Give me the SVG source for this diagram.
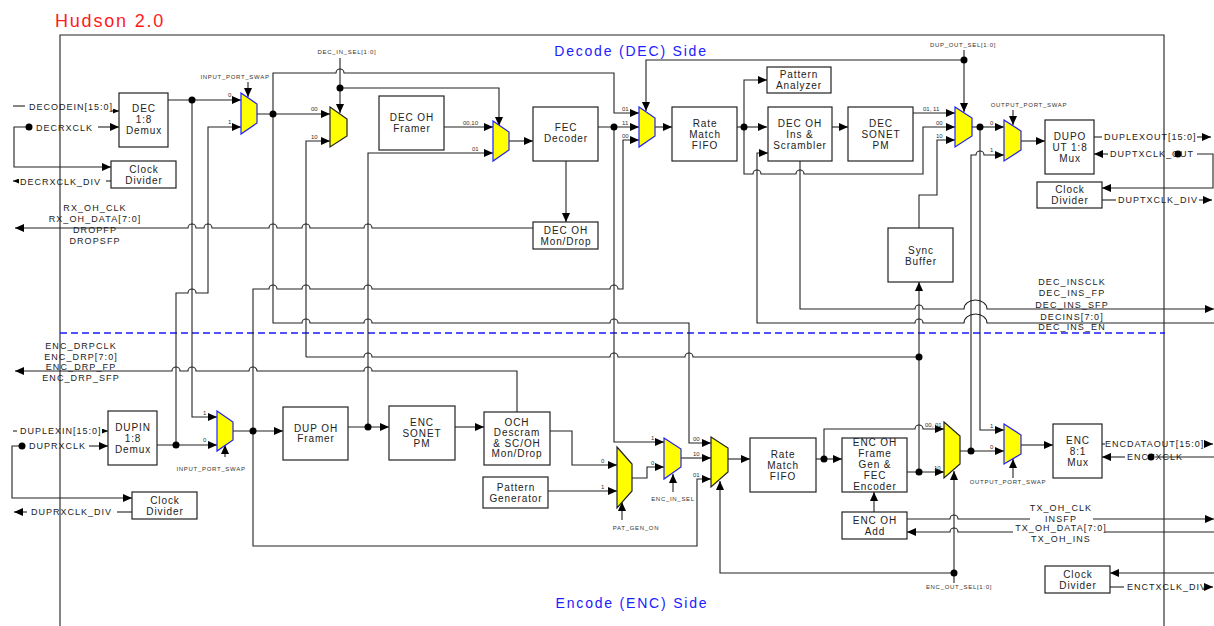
<svg xmlns="http://www.w3.org/2000/svg" width="1214" height="626" viewBox="0 0 1214 626">
<defs>
<style>
.bx{fill:#fff;stroke:#222;stroke-width:1.2}
.t{font-family:"Liberation Sans",Arial,sans-serif;font-size:10px;letter-spacing:0.9px;fill:#222;text-anchor:middle}
.p{font-family:"Liberation Sans",Arial,sans-serif;font-size:9px;letter-spacing:1px;fill:#222}
.pm{font-family:"Liberation Sans",Arial,sans-serif;font-size:9px;letter-spacing:1.1px;fill:#222;text-anchor:middle}
.s{font-family:"Liberation Sans",Arial,sans-serif;font-size:6px;letter-spacing:0.7px;fill:#333;text-anchor:middle}
.n{font-family:"Liberation Sans",Arial,sans-serif;font-size:6px;fill:#333}
.w{fill:none;stroke:#222;stroke-width:1.1}
.wa{fill:none;stroke:#222;stroke-width:1.1;marker-end:url(#a)}
.ws{fill:none;stroke:#222;stroke-width:1.1;marker-end:url(#sa)}
.mb{fill:#ffff00;stroke:#2020ff;stroke-width:1.2}
.mk{fill:#ffff00;stroke:#222;stroke-width:1.2}
.d{fill:#000}
.side{font-family:"Liberation Sans",Arial,sans-serif;font-size:14px;letter-spacing:1.8px;fill:#2020ff;text-anchor:middle}
</style>
<marker id="a" viewBox="0 0 9 8" refX="9" refY="4" markerWidth="9" markerHeight="8" markerUnits="userSpaceOnUse" orient="auto"><path d="M0,0 L9,4 L0,8 z" fill="#000"/></marker>
<marker id="sa" viewBox="0 0 6 5" refX="6" refY="2.5" markerWidth="6" markerHeight="5" markerUnits="userSpaceOnUse" orient="auto"><path d="M0,0 L6,2.5 L0,5 z" fill="#000"/></marker>
</defs>
<rect width="1214" height="626" fill="#fff"/>
<text x="55" y="27" font-family="Liberation Sans, Arial, sans-serif" font-size="18" letter-spacing="1.8" fill="#ff1a1a">Hudson 2.0</text>
<path class="w" d="M60,626 V35 H1164 V626"/>
<path d="M60,333 H1165" fill="none" stroke="#1a1aff" stroke-width="1.6" stroke-dasharray="7,4"/>
<text class="side" x="631" y="56">Decode (DEC) Side</text>
<text class="side" x="632" y="608">Encode (ENC) Side</text>

<g id="connectors">
<path class="wa" d="M168,100 H241"/>
<path class="wa" d="M176,445 V293 H188 A4,4 0 0 1 196,293 H208 V127 H241"/>
<path class="wa" d="M192,100 V417 H217"/>
<path class="wa" d="M257,114 H330"/>
<path class="wa" d="M273,114 V73 H336 A4,4 0 0 1 344,73 H614 V113 H639"/>
<path class="wa" d="M273,114 V323 H302 A4,4 0 0 1 310,323 H364 A4,4 0 0 1 372,323 H610 A4,4 0 0 1 618,323 H689 V443 H711"/>
<path class="wa" d="M340,58 V113"/>
<path class="wa" d="M340,88 H499 V126"/>
<path class="wa" d="M306,357 V141 H330"/>
<path class="w" d="M306,357 H364 A4,4 0 0 1 372,357 H610 A4,4 0 0 1 618,357 H685 A4,4 0 0 1 693,357 H919"/>
<path class="wa" d="M444,127 H493"/>
<path class="wa" d="M368,427 V153 H493"/>
<path class="wa" d="M509,141 H533"/>
<path class="wa" d="M598,127 H639"/>
<path class="wa" d="M614,127 V442 H664"/>
<path class="wa" d="M253,431 V289 H269 A4,4 0 0 1 277,289 H302 A4,4 0 0 1 310,289 H364 A4,4 0 0 1 372,289 H610 A4,4 0 0 1 618,289 H623 V140 H639"/>
<path class="wa" d="M566,161 V222"/>
<path class="wa" d="M533,228 H372 A4,4 0 0 0 364,228 H310 A4,4 0 0 0 302,228 H277 A4,4 0 0 0 269,228 H212 A4,4 0 0 0 204,228 H196 A4,4 0 0 0 188,228 H15"/>
<path class="wa" d="M964,60 H646 V111"/>
<path class="wa" d="M964,50 V112"/>
<path class="wa" d="M655,127 H672"/>
<path class="wa" d="M737,127 H767"/>
<path class="wa" d="M744,127 V80 H767"/>
<path class="wa" d="M744,127 V174 H753 A4,4 0 0 1 761,174 H796 A4,4 0 0 1 804,174 H923 V127 H955"/>
<path class="wa" d="M832,127 H848"/>
<path class="wa" d="M913,113 H955"/>
<path class="wa" d="M919,228 V195 H937 V140 H955"/>
<path class="wa" d="M919,472 V282"/>
<path class="wa" d="M800,161 V309 H915 A4,4 0 0 1 923,309 H964 A11.5,9 0 0 1 987,309 H1214"/>
<path class="wa" d="M1214,323 H987 A11.5,9 0 0 0 964,323 H923 A4,4 0 0 0 915,323 H757 V153 H768"/>
<path class="wa" d="M972,127 H1004"/>
<path class="wa" d="M980,127 V430 H1004"/>
<path class="wa" d="M971,451 V155 H976 A4,4 0 0 1 984,155 H1004"/>
<path class="wa" d="M1021,141 H1045"/>
<path class="wa" d="M1013,110 V125"/>
<path class="w" d="M1094,137 H1102"/>
<path class="wa" d="M1197,137 H1211"/>
<path class="wa" d="M1108,154 H1094"/>
<path class="wa" d="M1197,154 H1213 V188 H1102"/>
<path class="w" d="M1102,200 H1116"/>
<path class="wa" d="M1199,200 H1212"/>
<path class="w" d="M13,106 H25"/>
<path class="ws" d="M111,111 H119"/>
<path class="wa" d="M98,127 H119"/>
<path class="wa" d="M29,127 H14 V167 H111"/>
<path class="w" d="M111,181 H106"/>
<path class="ws" d="M19,181 H13"/>
<path class="w" d="M13,431 H17"/>
<path class="ws" d="M102,431 H108"/>
<path class="wa" d="M89,446 H108"/>
<path class="wa" d="M22,446 H12 V498 H132"/>
<path class="w" d="M132,512 H117"/>
<path class="wa" d="M27,512 H14"/>
<path class="wa" d="M157,445 H217"/>
<path class="wa" d="M233,431 H283"/>
<path class="wa" d="M225,457 V445"/>
<path class="wa" d="M248,82 V97"/>
<path class="wa" d="M253,431 V546 H697 V479 H711"/>
<path class="wa" d="M348,427 H389"/>
<path class="wa" d="M455,427 H484"/>
<path class="wa" d="M517,412 V371 H372 A4,4 0 0 0 364,371 H257 A4,4 0 0 0 249,371 H196 A4,4 0 0 0 188,371 H180 A4,4 0 0 0 172,371 H15"/>
<path class="wa" d="M550,431 H572 V465 H617"/>
<path class="wa" d="M548,491 H617"/>
<path class="wa" d="M632,478 H647 V467 H664"/>
<path class="wa" d="M622,520 V502"/>
<path class="wa" d="M673,492 V474"/>
<path class="wa" d="M681,458 H711"/>
<path class="wa" d="M728,459 H750"/>
<path class="wa" d="M954,573 H720 V481"/>
<path class="wa" d="M954,583 V471"/>
<path class="wa" d="M816,459 H842"/>
<path class="wa" d="M824,459 V429 H915 A4,4 0 0 1 923,429 H944"/>
<path class="wa" d="M907,472 H944"/>
<path class="wa" d="M960,451 H1004"/>
<path class="wa" d="M1021,445 H1053"/>
<path class="wa" d="M1013,478 V459"/>
<path class="wa" d="M874,512 V492"/>
<path class="wa" d="M907,519 H950 A4,4 0 0 1 958,519 H1214"/>
<path class="wa" d="M1214,532 H958 A4,4 0 0 0 950,532 H907"/>
<path class="w" d="M1102,444 H1105"/>
<path class="wa" d="M1205,444 H1213"/>
<path class="w" d="M1214,457 H1155"/>
<path class="wa" d="M1125,457 H1102"/>
<path class="wa" d="M1214,573 H1110"/>
<path class="w" d="M1110,587 H1124"/>
<path class="wa" d="M1205,587 H1213"/>
<g class="d">
<circle cx="192" cy="100" r="3.5"/><circle cx="273" cy="114" r="3.5"/><circle cx="340" cy="88" r="3.5"/>
<circle cx="614" cy="127" r="3.5"/><circle cx="744" cy="127" r="3.5"/><circle cx="964" cy="60" r="3.5"/>
<circle cx="980" cy="127" r="3.5"/><circle cx="29" cy="127" r="3.5"/><circle cx="22" cy="446" r="3.5"/>
<circle cx="176" cy="445" r="3.5"/><circle cx="253" cy="431" r="3.5"/><circle cx="368" cy="427" r="3.5"/>
<circle cx="919" cy="357" r="3.5"/><circle cx="824" cy="459" r="3.5"/><circle cx="919" cy="472" r="3.5"/>
<circle cx="971" cy="451" r="3.5"/><circle cx="954" cy="573" r="3.5"/>
</g>
</g>

<g id="mux-input-port-swap-dec"><polygon class="mb" points="241,93 257,104 257,123 241,134"/></g>
<g id="mux-dec-in-sel"><polygon class="mk" points="330,107 347,119 347,136 330,147"/></g>
<g id="mux-fec-in"><polygon class="mb" points="493,121 509,132 509,150 493,161"/></g>
<g id="mux-rmf-in"><polygon class="mb" points="639,107 655,118 655,136 639,147"/></g>
<g id="mux-dup-out-sel"><polygon class="mb" points="955,107 972,118 972,136 955,147"/></g>
<g id="mux-output-port-swap-dec"><polygon class="mb" points="1004,120 1021,131 1021,150 1004,161"/></g>
<g id="mux-input-port-swap-enc"><polygon class="mb" points="217,411 233,422 233,440 217,451"/></g>
<g id="mux-pat-gen"><polygon class="mk" points="617,447 632,464 632,491 617,508"/></g>
<g id="mux-enc-in-sel"><polygon class="mb" points="664,438 681,449 681,467 664,479"/></g>
<g id="mux-enc-rmf-in"><polygon class="mk" points="711,437 728,448 728,472 711,487"/></g>
<g id="mux-enc-out-sel"><polygon class="mk" points="944,422 960,436 960,464 944,478"/></g>
<g id="mux-output-port-swap-enc"><polygon class="mb" points="1004,424 1021,435 1021,454 1004,464"/></g>

<g id="dec-demux"><rect class="bx" x="119" y="93" width="49" height="54"/><text class="t" x="144" y="112">DEC</text><text class="t" x="144" y="123">1:8</text><text class="t" x="144" y="134">Demux</text></g>
<g id="clkdiv-dec"><rect class="bx" x="111" y="161" width="65" height="27"/><text class="t" x="144" y="172.5">Clock</text><text class="t" x="144" y="183.5">Divider</text></g>
<g id="dec-oh-framer"><rect class="bx" x="379" y="96" width="65" height="54"/><text class="t" x="412" y="121">DEC OH</text><text class="t" x="412" y="132">Framer</text></g>
<g id="fec-decoder"><rect class="bx" x="533" y="107" width="65" height="54"/><text class="t" x="566" y="131">FEC</text><text class="t" x="566" y="142">Decoder</text></g>
<g id="dec-oh-mondrop"><rect class="bx" x="533" y="222" width="65" height="27"/><text class="t" x="566" y="233.5">DEC OH</text><text class="t" x="566" y="244.5">Mon/Drop</text></g>
<g id="rmf-dec"><rect class="bx" x="672" y="107" width="65" height="54"/><text class="t" x="705" y="126.5">Rate</text><text class="t" x="705" y="137.5">Match</text><text class="t" x="705" y="148.5">FIFO</text></g>
<g id="pattern-analyzer"><rect class="bx" x="767" y="67" width="64" height="26"/><text class="t" x="799" y="77.5">Pattern</text><text class="t" x="799" y="88.5">Analyzer</text></g>
<g id="dec-oh-ins"><rect class="bx" x="768" y="107" width="64" height="54"/><text class="t" x="800" y="126.5">DEC OH</text><text class="t" x="800" y="137.5">Ins &amp;</text><text class="t" x="800" y="148.5">Scrambler</text></g>
<g id="dec-sonet-pm"><rect class="bx" x="848" y="107" width="65" height="54"/><text class="t" x="881" y="126.5">DEC</text><text class="t" x="881" y="137.5">SONET</text><text class="t" x="881" y="148.5">PM</text></g>
<g id="sync-buffer"><rect class="bx" x="888" y="228" width="65" height="54"/><text class="t" x="921" y="253.5">Sync</text><text class="t" x="921" y="264.5">Buffer</text></g>
<g id="dupout-mux"><rect class="bx" x="1045" y="120" width="49" height="54"/><text class="t" x="1070" y="139.5">DUPO</text><text class="t" x="1070" y="150.5">UT 1:8</text><text class="t" x="1070" y="161.5">Mux</text></g>
<g id="clkdiv-dup"><rect class="bx" x="1037" y="182" width="65" height="26"/><text class="t" x="1070" y="192.5">Clock</text><text class="t" x="1070" y="203.5">Divider</text></g>
<g id="dupin-demux"><rect class="bx" x="108" y="411" width="49" height="54"/><text class="t" x="133" y="430.5">DUPIN</text><text class="t" x="133" y="441.5">1:8</text><text class="t" x="133" y="452.5">Demux</text></g>
<g id="clkdiv-duprx"><rect class="bx" x="132" y="492" width="65" height="27"/><text class="t" x="165" y="503.5">Clock</text><text class="t" x="165" y="514.5">Divider</text></g>
<g id="dup-oh-framer"><rect class="bx" x="283" y="407" width="65" height="53"/><text class="t" x="316" y="431.5">DUP OH</text><text class="t" x="316" y="442">Framer</text></g>
<g id="enc-sonet-pm"><rect class="bx" x="389" y="406" width="66" height="54"/><text class="t" x="422" y="425.5">ENC</text><text class="t" x="422" y="436.5">SONET</text><text class="t" x="422" y="447">PM</text></g>
<g id="och-descram"><rect class="bx" x="484" y="412" width="66" height="53"/><text class="t" x="517" y="425.5">OCH</text><text class="t" x="517" y="436">Descram</text><text class="t" x="517" y="446.5">&amp; SC/OH</text><text class="t" x="517" y="457">Mon/Drop</text></g>
<g id="pattern-generator"><rect class="bx" x="483" y="477" width="65" height="31"/><text class="t" x="516" y="490.5">Pattern</text><text class="t" x="516" y="501.5">Generator</text></g>
<g id="rmf-enc"><rect class="bx" x="750" y="438" width="66" height="54"/><text class="t" x="783" y="457.5">Rate</text><text class="t" x="783" y="468.5">Match</text><text class="t" x="783" y="479.5">FIFO</text></g>
<g id="enc-oh-frame"><rect class="bx" x="842" y="438" width="65" height="54"/><text class="t" x="875" y="446">ENC OH</text><text class="t" x="875" y="457">Frame</text><text class="t" x="875" y="468">Gen &amp;</text><text class="t" x="875" y="479">FEC</text><text class="t" x="875" y="489.5">Encoder</text></g>
<g id="enc-oh-add"><rect class="bx" x="842" y="512" width="65" height="27"/><text class="t" x="875" y="523.5">ENC OH</text><text class="t" x="875" y="534.5">Add</text></g>
<g id="enc-mux"><rect class="bx" x="1053" y="424" width="49" height="54"/><text class="t" x="1078" y="443.5">ENC</text><text class="t" x="1078" y="454.5">8:1</text><text class="t" x="1078" y="465.5">Mux</text></g>
<g id="clkdiv-enc"><rect class="bx" x="1045" y="566" width="65" height="27"/><text class="t" x="1078" y="577.5">Clock</text><text class="t" x="1078" y="588.5">Divider</text></g>

<g id="labels">
<text class="s" x="235" y="79">INPUT_PORT_SWAP</text>
<text class="s" x="347" y="54">DEC_IN_SEL[1:0]</text>
<text class="s" x="963" y="47">DUP_OUT_SEL[1:0]</text>
<text class="s" x="1029" y="107">OUTPUT_PORT_SWAP</text>
<text class="s" x="211" y="471">INPUT_PORT_SWAP</text>
<text class="s" x="636" y="530">PAT_GEN_ON</text>
<text class="s" x="673" y="501">ENC_IN_SEL</text>
<text class="s" x="959" y="589">ENC_OUT_SEL[1:0]</text>
<text class="s" x="1008" y="484">OUTPUT_PORT_SWAP</text>
<text class="n" x="228" y="97">0</text><text class="n" x="228" y="124">1</text>
<text class="n" x="311" y="111">00</text><text class="n" x="311" y="139">10</text>
<text class="n" x="463" y="125">00,10</text><text class="n" x="472" y="151">01</text>
<text class="n" x="622" y="111">01</text><text class="n" x="622" y="125">11</text><text class="n" x="622" y="138">00</text>
<text class="n" x="923" y="111">01, 11</text><text class="n" x="936" y="125">00</text><text class="n" x="936" y="138">10</text>
<text class="n" x="990" y="125">0</text><text class="n" x="990" y="152">1</text>
<text class="n" x="203" y="415">1</text><text class="n" x="203" y="442">0</text>
<text class="n" x="601" y="463">0</text><text class="n" x="601" y="489">1</text>
<text class="n" x="651" y="440">1</text><text class="n" x="651" y="465">0</text>
<text class="n" x="693" y="441">00</text><text class="n" x="693" y="456">10</text><text class="n" x="693" y="477">01</text>
<text class="n" x="925" y="427">00, 01</text><text class="n" x="934" y="470">10</text>
<text class="n" x="990" y="428">1</text><text class="n" x="990" y="449">0</text>

<text class="p" x="29" y="109.5">DECODEIN[15:0]</text>
<text class="p" x="36" y="130.5">DECRXCLK</text>
<text class="p" x="20" y="184.5">DECRXCLK_DIV</text>
<text class="pm" x="95" y="211">RX_OH_CLK</text>
<text class="pm" x="95" y="221.5">RX_OH_DATA[7:0]</text>
<text class="pm" x="95" y="233">DROPFP</text>
<text class="pm" x="95" y="244">DROPSFP</text>
<text class="pm" x="81" y="349">ENC_DRPCLK</text>
<text class="pm" x="81" y="360">ENC_DRP[7:0]</text>
<text class="pm" x="81" y="370">ENC_DRP_FP</text>
<text class="pm" x="81" y="381">ENC_DRP_SFP</text>
<text class="p" x="20" y="434">DUPLEXIN[15:0]</text>
<text class="p" x="29" y="449">DUPRXCLK</text>
<text class="p" x="31" y="515">DUPRXCLK_DIV</text>
<text class="p" x="1104" y="140">DUPLEXOUT[15:0]</text>
<text class="p" x="1110" y="157">DUPTXCLK_OUT</text>
<circle class="d" cx="1178" cy="154" r="3.5"/>
<text class="p" x="1118" y="203">DUPTXCLK_DIV</text>
<text class="pm" x="1072" y="285">DEC_INSCLK</text>
<text class="pm" x="1072" y="296">DEC_INS_FP</text>
<text class="pm" x="1072" y="308">DEC_INS_SFP</text>
<text class="pm" x="1072" y="320">DECINS[7:0]</text>
<text class="pm" x="1072" y="330">DEC_INS_EN</text>
<text class="p" x="1105" y="447">ENCDATAOUT[15:0]</text>
<text class="p" x="1127" y="460">ENCTXCLK</text>
<circle class="d" cx="1151" cy="457" r="3.5"/>
<text class="p" x="1127" y="590">ENCTXCLK_DIV</text>
<rect x="1030" y="501" width="63" height="21" fill="#fff"/>
<text class="pm" x="1061" y="511">TX_OH_CLK</text>
<text class="pm" x="1061" y="521.5">INSFP</text>
<rect x="1013" y="522" width="92" height="12" fill="#fff"/>
<text class="pm" x="1061" y="531">TX_OH_DATA[7:0]</text>
<text class="pm" x="1061" y="541.5">TX_OH_INS</text>
</g>
</svg>
